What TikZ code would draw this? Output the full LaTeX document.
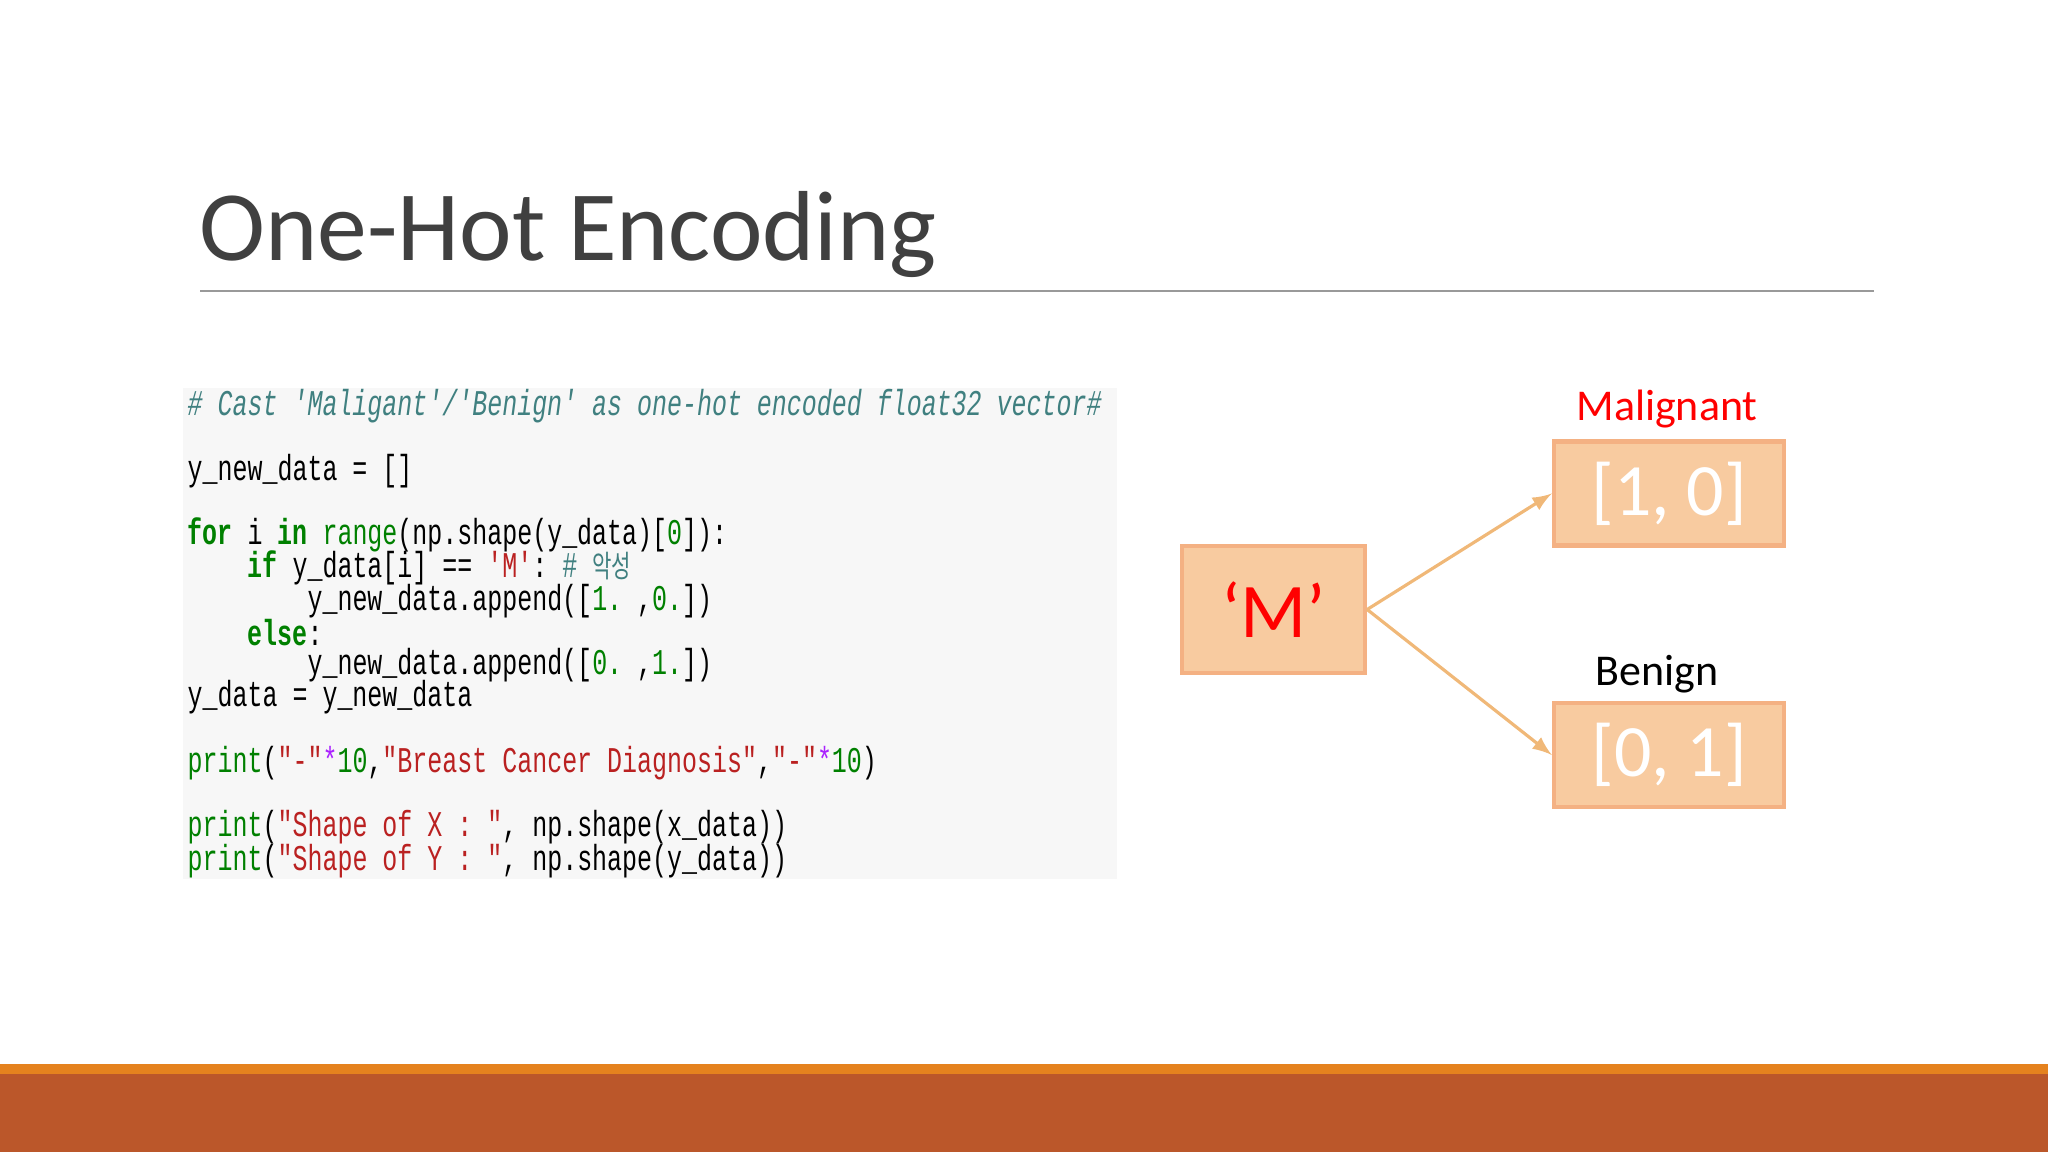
\documentclass[tikz,border=0pt]{standalone}
\usepackage{fontspec}
\setmainfont{Carlito}
\setmonofont{Liberation Mono}
\newfontfamily\kofont{Noto Sans CJK KR}
\definecolor{titlegray}{HTML}{404040}
\definecolor{codebg}{HTML}{F7F7F7}
\definecolor{cmt}{HTML}{408080}
\definecolor{kw}{HTML}{008000}
\definecolor{str}{HTML}{BA2121}
\definecolor{op}{HTML}{AA22FF}
\definecolor{boxfill}{HTML}{F8CBA0}
\definecolor{boxline}{HTML}{F4B183}
\definecolor{arr}{HTML}{F0B878}
\definecolor{barorange}{HTML}{E5821E}
\definecolor{barbrown}{HTML}{BB572A}
\newcommand{\cm}[1]{\textcolor{cmt}{\itshape #1}}
\newcommand{\kw}[1]{\textcolor{kw}{\bfseries #1}}
\newcommand{\gr}[1]{\textcolor{kw}{#1}}
\newcommand{\st}[1]{\textcolor{str}{#1}}
\newcommand{\opr}[1]{\textcolor{op}{#1}}
\begin{document}
\begin{tikzpicture}[x=0.01cm,y=-0.01cm,
  code/.style={anchor=west,inner sep=0pt,font=\ttfamily\fontsize{7.1pt}{8pt}\selectfont},
  vbox/.style={draw=boxline,line width=1.2pt,fill=boxfill,text=white,inner sep=0pt,
    minimum width=2.3cm,minimum height=1.04cm,font=\fontsize{21pt}{24pt}\selectfont},
  mbox/.style={vbox,text=red,minimum width=1.83cm,minimum height=1.27cm,font=\fontsize{22pt}{24pt}\selectfont},
  conn/.style={draw=arr,line width=0.9pt,-latex}]
\useasboundingbox (0,0) rectangle (2048,1152);
\node[anchor=base west,inner sep=0pt,text=titlegray,font=\fontsize{28.3pt}{34pt}\selectfont] (title) at (199,261) {One-Hot Encoding};
\draw[gray!80,line width=0.8pt] (200,291) -- (1874,291);
\fill[codebg] (183,388) rectangle (1117,879);
\newcommand{\cl}[2]{\node[code] at (187,#1) {\scalebox{1}[1.45]{#2}};}
\cl{406}{\cm{\# Cast 'Maligant'/'Benign' as one-hot encoded float32 vector\#}}
\cl{471}{y\_new\_data = []}
\cl{535}{\kw{for} i \kw{in} \gr{range}(np.shape(y\_data)[\gr{0}]):}
\cl{568}{\ \ \ \ \kw{if} y\_data[i] == \st{'M'}: \textcolor{cmt}{\# {\kofont\fontsize{6pt}{7pt}\selectfont 악성}}}
\cl{601}{\ \ \ \ \ \ \ \ y\_new\_data.append([\gr{1.} ,\gr{0.}])}
\cl{633}{\ \ \ \ \kw{else}:}
\cl{665}{\ \ \ \ \ \ \ \ y\_new\_data.append([\gr{0.} ,\gr{1.}])}
\cl{697}{y\_data = y\_new\_data}
\cl{763}{\gr{print}(\st{"-"}\opr{*}\gr{10},\st{"Breast Cancer Diagnosis"},\st{"-"}\opr{*}\gr{10})}
\cl{827}{\gr{print}(\st{"Shape of X : "}, np.shape(x\_data))}
\cl{861}{\gr{print}(\st{"Shape of Y : "}, np.shape(y\_data))}
\node[mbox] (m) at (1273.5,609.5) {‘M’};
\node[vbox] (v1) at (1669,493.5) {[1, 0]};
\node[vbox] (v2) at (1669,755) {[0, 1]};
\draw[conn] (m.east) -- (v1.west);
\draw[conn] (m.east) -- (v2.west);
\node[text=red,font=\fontsize{12.5pt}{15pt}\selectfont] (lm) at (1667,409) {Malignant};
\node[text=black,font=\fontsize{12.5pt}{15pt}\selectfont] (lb) at (1657,674) {Benign};
\fill[barorange] (0,1064) rectangle (2048,1075);
\fill[barbrown] (0,1074) rectangle (2048,1152);
\end{tikzpicture}
\end{document}
